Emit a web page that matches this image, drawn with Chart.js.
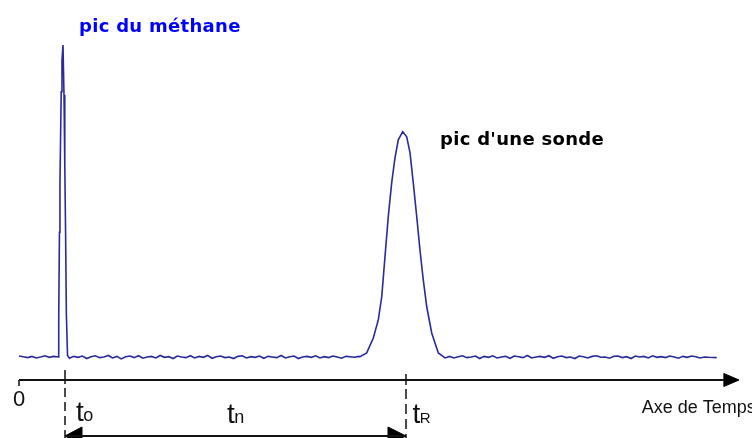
<!DOCTYPE html>
<html>
<head>
<meta charset="utf-8">
<script src="https://cdn.jsdelivr.net/npm/chart.js@4.4.1/dist/chart.umd.min.js"></script>
<style>
  html, body { margin: 0; padding: 0; background: #fff; }
  #wrap { width: 752px; height: 438px; position: relative; }
</style>
</head>
<body>
<div id="wrap"><canvas id="chart"></canvas></div>
<script>
// detector trace as [time, response] pairs
const baselineBefore = [
  [0, 0.3], [0.6, 0.1], [1.2, -0.2], [1.8, 0.2], [2.4, -0.3], [3.0, 0.0],
  [3.6, 0.4], [4.2, -0.1], [4.8, 0.2], [5.3, 0.1]
];
const methanePeak = [
  [5.42, 0.0], [5.52, 13.5], [5.62, 40.0], [5.69, 55.8], [5.86, 85.0], [5.97, 95.0], [6.11, 100],
  [6.25, 84.0], [6.36, 61.5], [6.47, 40.0], [6.58, 13.5], [6.74, 0.5]
];
const baselineMiddle = [
  [7.0, -0.4], [7.6, 0.2], [8.2, -0.1], [8.8, 0.3], [9.4, -0.5], [10.0, 0.1], [10.6, 0.4], [11.2, -0.2], [11.8, 0.0], [12.4, 0.5],
  [13.0, -0.3], [13.6, 0.2], [14.2, -0.6], [14.8, 0.1], [15.4, 0.3], [16.0, -0.2], [16.6, 0.4], [17.2, -0.4], [17.8, 0.0], [18.4, 0.2],
  [19.0, -0.3], [19.6, 0.5], [20.2, -0.1], [20.8, 0.1], [21.4, -0.5], [22.0, 0.3], [22.6, 0.0], [23.2, -0.2], [23.8, 0.4], [24.4, -0.3],
  [25.0, 0.2], [25.6, -0.1], [26.2, 0.5], [26.8, -0.4], [27.4, 0.1], [28.0, 0.3], [28.6, -0.2], [29.2, 0.0], [29.8, -0.5], [30.4, 0.2],
  [31.0, 0.4], [31.6, -0.3], [32.2, 0.1], [32.8, -0.1], [33.4, 0.3], [34.0, -0.4], [34.6, 0.2], [35.2, 0.0], [35.8, -0.2], [36.4, 0.5],
  [37.0, -0.3], [37.6, 0.1], [38.2, 0.3], [38.8, -0.5], [39.4, 0.0], [40.0, 0.2], [40.6, -0.1], [41.2, 0.4], [41.8, -0.3], [42.4, 0.1],
  [43.0, -0.2], [43.6, 0.3], [44.2, 0.0], [44.8, -0.4], [45.4, 0.2], [46.0, 0.1], [46.6, -0.1], [47.2, 0.2]
];
const probePeak = [
  [47.36, 0.1], [48.29, 1.3], [49.21, 6.1], [49.9, 11.9], [50.38, 19.3], [50.83, 32.1],
  [51.29, 45.0], [51.76, 55.8], [52.22, 63.8], [52.68, 69.6], [53.29, 72.2], [53.85, 70.6],
  [54.31, 65.4], [54.76, 55.8], [55.24, 45.0], [55.69, 34.3], [56.15, 24.7], [56.63, 16.1],
  [57.32, 7.7], [58.24, 1.3], [59.17, -0.3]
];
const baselineAfter = [
  [59.8, 0.2], [60.4, -0.3], [61.0, 0.1], [61.6, 0.4], [62.2, -0.2], [62.8, 0.0], [63.4, 0.3], [64.0, -0.5], [64.6, 0.2], [65.2, -0.1],
  [65.8, 0.4], [66.4, -0.3], [67.0, 0.0], [67.6, 0.2], [68.2, -0.4], [68.8, 0.3], [69.4, 0.1], [70.0, -0.2], [70.6, 0.5], [71.2, -0.3],
  [71.8, 0.0], [72.4, 0.2], [73.0, -0.1], [73.6, 0.4], [74.2, -0.4], [74.8, 0.1], [75.4, 0.3], [76.0, -0.2], [76.6, 0.0], [77.2, -0.5],
  [77.8, 0.3], [78.4, 0.1], [79.0, -0.3], [79.6, 0.2], [80.2, 0.4], [80.8, -0.1], [81.4, 0.0], [82.0, -0.4], [82.6, 0.2], [83.2, 0.3],
  [83.8, -0.2], [84.4, 0.1], [85.0, -0.5], [85.6, 0.3], [86.2, 0.0], [86.8, 0.2], [87.4, -0.3], [88.0, 0.4], [88.6, -0.1], [89.2, 0.1],
  [89.8, -0.2], [90.4, 0.3], [91.0, 0.0], [91.6, -0.4], [92.2, 0.2], [92.8, -0.1], [93.4, 0.3], [94.0, 0.1], [94.6, -0.3], [95.2, 0.0],
  [95.8, -0.1], [96.9, -0.2]
];

// time marks on the axis
const tOrigin = 0;
const tMethane = 6.39;     // t0
const tRetention = 53.75;  // tR
const tAxisEnd = 100;
const axisLevel = -7.37;
const spanLevel = -25.32;

const peakLabels = ['pic du méthane', "pic d'une sonde"];
const timeLabels = [['t', 'o'], ['t', 'n'], ['t', 'R']];
const originLabel = '0';
const axisTitle = 'Axe de Temps';

const pts = arr => arr.map(([x, y]) => ({ x, y }));
const seg = (data, extra) => Object.assign({
  data: data,
  showLine: true,
  pointRadius: 0,
  borderColor: '#111',
  borderWidth: 2,
  tension: 0,
  fill: false
}, extra);

const trace = [...baselineBefore, ...methanePeak, ...baselineMiddle, ...probePeak, ...baselineAfter];

const datasets = [
  seg(pts(trace), { borderColor: '#2a2a9c', borderWidth: 1.6 }),
  // time axis + arrow head
  seg(pts([[tOrigin, axisLevel], [97.9, axisLevel]])),
  seg(pts([[97.9, axisLevel + 2.08], [tAxisEnd, axisLevel], [97.9, axisLevel - 2.08], [97.9, axisLevel + 2.08]]),
      { borderWidth: 1, fill: 'shape', backgroundColor: '#000', borderColor: '#000' }),
  seg(pts([[tOrigin, axisLevel], [tOrigin, -9.29]]), { borderWidth: 1.5 }),
  // t0 and tR markers
  seg(pts([[tMethane, -4.17], [tMethane, -8.65]]), { borderWidth: 1.5 }),
  seg(pts([[tMethane, -9.94], [tMethane, -26]]), { borderWidth: 1.5, borderDash: [9, 5] }),
  seg(pts([[tRetention, -5.45], [tRetention, -8.97]]), { borderWidth: 1.5 }),
  seg(pts([[tRetention, -10.26], [tRetention, -26]]), { borderWidth: 1.5, borderDash: [10, 5] }),
  // tn span with two heads
  seg(pts([[tMethane, spanLevel], [tRetention, spanLevel]])),
  seg(pts([[8.75, spanLevel + 2.88], [tMethane, spanLevel], [8.75, spanLevel - 2.88], [8.75, spanLevel + 2.88]]),
      { borderWidth: 1, fill: 'shape', backgroundColor: '#000', borderColor: '#000' }),
  seg(pts([[51.25, spanLevel + 2.88], [tRetention, spanLevel], [51.25, spanLevel - 2.88], [51.25, spanLevel + 2.88]]),
      { borderWidth: 1, fill: 'shape', backgroundColor: '#000', borderColor: '#000' })
];

// where the texts sit, in data units
const labelSpots = {
  peaks: [{ x: 8.33, y: 104.2, color: '#0000ff' }, { x: 58.47, y: 67.9, color: '#000' }],
  marks: [{ x: 7.9, y: -20.5 }, { x: 28.9, y: -21.15 }, { x: 54.66, y: -21.15 }],
  origin: { x: 0, y: -15.71 },
  title: { x: 86.49, y: -17.95 }
};

const textPlugin = {
  id: 'texts',
  afterDatasetsDraw(chart) {
    const { ctx, scales: { x, y } } = chart;
    ctx.save();
    ctx.textBaseline = 'alphabetic';

    ctx.font = 'bold 18px "DejaVu Sans"';
    ctx.letterSpacing = '0.3px';
    peakLabels.forEach((txt, i) => {
      const s = labelSpots.peaks[i];
      ctx.fillStyle = s.color;
      ctx.textAlign = 'left';
      ctx.fillText(txt, x.getPixelForValue(s.x), y.getPixelForValue(s.y));
    });
    ctx.letterSpacing = '0px';

    ctx.fillStyle = '#111';
    timeLabels.forEach(([main, sub], i) => {
      const s = labelSpots.marks[i];
      const px = x.getPixelForValue(s.x);
      const py = y.getPixelForValue(s.y);
      ctx.textAlign = 'left';
      ctx.font = '28px "Liberation Sans"';
      ctx.fillText(main, px, py);
      const w = ctx.measureText(main).width;
      ctx.font = (sub === 'R' ? '15px' : '18px') + ' "Liberation Sans"';
      ctx.fillText(sub, px + w - 0.5, py);
    });

    ctx.font = '22px "Liberation Sans"';
    ctx.textAlign = 'center';
    ctx.fillText(originLabel, x.getPixelForValue(labelSpots.origin.x), y.getPixelForValue(labelSpots.origin.y));

    ctx.font = '18px "Liberation Sans"';
    ctx.textAlign = 'left';
    ctx.fillText(axisTitle, x.getPixelForValue(labelSpots.title.x), y.getPixelForValue(labelSpots.title.y));
    ctx.restore();
  }
};

new Chart(document.getElementById('chart'), {
  type: 'scatter',
  data: { datasets: datasets },
  options: {
    responsive: true,
    maintainAspectRatio: false,
    animation: false,
    layout: { padding: 0 },
    plugins: { legend: { display: false }, tooltip: { enabled: false } },
    scales: {
      x: { type: 'linear', min: -2.639, max: 101.806, display: false },
      y: { type: 'linear', min: -25.962, max: 114.423, display: false }
    }
  },
  plugins: [textPlugin]
});
</script>
</body>
</html>
